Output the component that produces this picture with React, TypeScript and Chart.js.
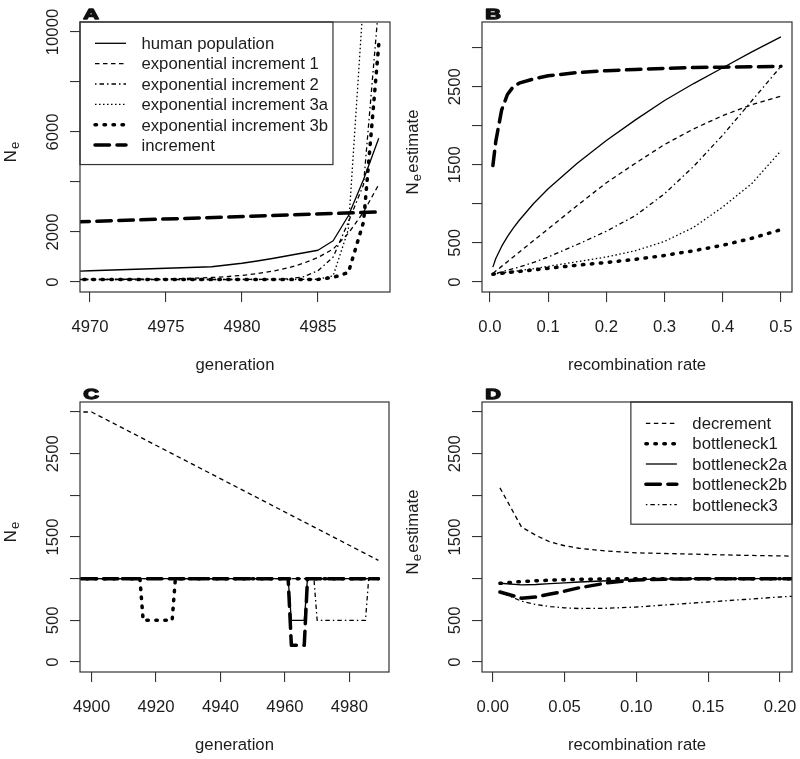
import React, { useEffect, useRef } from "react";
import { Chart, registerables } from "chart.js";

Chart.register(...registerables);

const FONT = "'Liberation Sans', Arial, Helvetica, sans-serif";
const FS = 16.7;
const INK = "#1c1c1c";
const AXIS = "#333333";
const LINE = "#000000";

// ---------- Panel A (generation vs Ne) ----------
const genA = [4969, 4970, 4971, 4972, 4973, 4974, 4975, 4976, 4977, 4978, 4979, 4980, 4981, 4982, 4983, 4984, 4985, 4986, 4987, 4988, 4989];
const humanA = [430, 450, 470, 490, 510, 530, 550, 570, 590, 610, 680, 750, 840, 940, 1050, 1160, 1270, 1650, 2650, 4100, 5750];
const exp1A = [100, 102, 105, 108, 112, 118, 126, 138, 155, 180, 215, 265, 335, 430, 560, 740, 980, 1320, 1950, 2800, 3900];
const exp2A = [100, 100, 100, 100, 100, 100, 100, 100, 100, 100, 100, 102, 105, 112, 125, 200, 450, 1000, 2400, 3900, 11100];
const exp3aA = [100, 100, 100, 100, 100, 100, 100, 100, 100, 100, 100, 100, 100, 100, 100, 102, 110, 250, 2100, 11400, 60000];
const exp3bA = [100, 100, 100, 100, 100, 100, 100, 100, 100, 100, 100, 100, 100, 100, 100, 100, 105, 180, 380, 2400, 9500];
const incGenA = [4969, 4979, 4989];
const incA = [2400, 2600, 2800];
const xTicksA = [4970, 4975, 4980, 4985];
const yTicksA = [0, 2000, 4000, 6000, 8000, 10000];
const yLabelsA = [0, 2000, 6000, 10000];
const legendA = ["human population", "exponential increment 1", "exponential increment 2", "exponential increment 3a", "exponential increment 3b", "increment"];

// ---------- Panel B (recombination rate vs Ne estimate) ----------
const rB = [0.005, 0.01, 0.02, 0.03, 0.04, 0.05, 0.075, 0.1, 0.15, 0.2, 0.25, 0.3, 0.35, 0.4, 0.45, 0.5];
const humanB = [190, 300, 455, 580, 690, 787, 1005, 1194, 1520, 1810, 2075, 2323, 2540, 2743, 2945, 3137];
const exp1B = [110, 140, 200, 260, 320, 380, 530, 680, 980, 1270, 1520, 1760, 1960, 2130, 2270, 2380];
const exp2B = [100, 110, 130, 150, 170, 190, 250, 320, 480, 650, 850, 1130, 1480, 1880, 2320, 2760];
const exp3aB = [100, 105, 115, 125, 135, 145, 170, 200, 260, 320, 400, 520, 700, 960, 1260, 1680];
const exp3bB = [100, 105, 112, 120, 128, 135, 155, 175, 215, 250, 290, 340, 400, 470, 560, 670];
const incB = [1490, 1800, 2200, 2400, 2500, 2545, 2600, 2640, 2680, 2705, 2720, 2735, 2745, 2750, 2755, 2760];
const xTicksB = [0, 0.1, 0.2, 0.3, 0.4, 0.5];
const yTicksB = [0, 500, 1000, 1500, 2000, 2500, 3000];
const yLabelsB = [0, 500, 1500, 2500];

// ---------- Panel C (generation vs Ne, decrement & bottlenecks) ----------
const decGenC = [4890, 4900, 4989];
const decC = [3000, 3000, 1220];
const b1GenC = [4890, 4915, 4916, 4925, 4926, 4989];
const b1C = [1000, 1000, 500, 500, 1000, 1000];
const b2GenC = [4890, 4961, 4962, 4966, 4967, 4989];
const b2aC = [1000, 1000, 500, 500, 1000, 1000];
const b2bC = [1000, 1000, 200, 200, 1000, 1000];
const b3GenC = [4890, 4969, 4970, 4985, 4986, 4989];
const b3C = [1000, 1000, 500, 500, 1000, 1000];
const xTicksC = [4900, 4920, 4940, 4960, 4980];
const yTicksC = [0, 500, 1000, 1500, 2000, 2500, 3000];
const yLabelsC = [0, 500, 1500, 2500];

// ---------- Panel D (recombination rate vs Ne estimate) ----------
const rD = [0.005, 0.02, 0.03, 0.04, 0.05, 0.06, 0.08, 0.1, 0.125, 0.15, 0.175, 0.2, 0.25];
const decD = [2090, 1620, 1520, 1440, 1395, 1365, 1330, 1310, 1300, 1290, 1280, 1273, 1262];
const b1D = [945, 965, 975, 982, 988, 992, 997, 1000, 1000, 1000, 1000, 1000, 1000];
const b2aD = [945, 925, 930, 940, 950, 960, 975, 990, 997, 1000, 1000, 1000, 1000];
const b2bD = [840, 765, 780, 815, 850, 890, 950, 985, 995, 1000, 1000, 1000, 1000];
const b3D = [840, 730, 690, 665, 650, 642, 645, 660, 690, 720, 750, 780, 830];
const xTicksD = [0, 0.05, 0.1, 0.15, 0.2];
const yTicksD = [0, 500, 1000, 1500, 2000, 2500, 3000];
const yLabelsD = [0, 500, 1500, 2500];
const legendD = ["decrement", "bottleneck1", "bottleneck2a", "bottleneck2b", "bottleneck3"];

type StyleKey = "solid" | "dashed" | "dotdash" | "dotted" | "thickDotted" | "longdash";
const STY: Record<StyleKey, { w: number; dash: number[]; cap: CanvasLineCap }> = {
  solid: { w: 1.3, dash: [], cap: "butt" },
  dashed: { w: 1.3, dash: [4.5, 3.5], cap: "butt" },
  dotdash: { w: 1.3, dash: [1.5, 3, 4.5, 3], cap: "butt" },
  dotted: { w: 1.3, dash: [1.5, 2.5], cap: "butt" },
  thickDotted: { w: 3.5, dash: [1.5, 7.5], cap: "round" },
  longdash: { w: 3.5, dash: [14.5, 7.5], cap: "round" },
};

type Series = { label: string; x: number[]; y: number[]; style: StyleKey };

type Spec = {
  letter: string;
  left: number;
  top: number;
  width: number;
  height: number;
  padR: number;
  yW: number;
  xMin: number;
  xMax: number;
  yMin: number;
  yMax: number;
  xTicks: number[];
  xDigits: number;
  yTicks: number[];
  yLabels: number[];
  xTitle: string;
  yRest: string;
  series: Series[];
  legend: null | { anchor: "left" | "right"; labels: string[] };
};

function makeDecor(spec: Spec) {
  return {
    id: "decor" + spec.letter,
    afterDatasetsDraw(chart: any) {
      const { ctx, chartArea: ca } = chart;
      if (!spec.legend) return;
      ctx.save();
      ctx.font = `${FS}px ${FONT}`;
      const labels = spec.legend.labels;
      let maxW = 0;
      labels.forEach((l) => (maxW = Math.max(maxW, ctx.measureText(l).width)));
      const w = 61.5 + maxW + 5;
      const h = 21.3 + (labels.length - 1) * 20.35 + 19.5;
      const lx = spec.legend.anchor === "left" ? ca.left : ca.right - w;
      const ly = ca.top;
      ctx.fillStyle = "#ffffff";
      ctx.fillRect(lx, ly, w, h);
      ctx.strokeStyle = AXIS;
      ctx.lineWidth = 1.2;
      ctx.setLineDash([]);
      ctx.strokeRect(lx, ly, w, h);
      labels.forEach((label, i) => {
        const ds = chart.data.datasets.find((d: any) => d.label === label);
        const ry = ly + 21.3 + i * 20.35;
        if (ds) {
          ctx.save();
          ctx.strokeStyle = LINE;
          ctx.lineWidth = ds.borderWidth;
          ctx.lineCap = ds.borderCapStyle;
          ctx.setLineDash(ds.borderDash);
          ctx.beginPath();
          ctx.moveTo(lx + 15, ry);
          ctx.lineTo(lx + 46, ry);
          ctx.stroke();
          ctx.restore();
        }
        ctx.fillStyle = INK;
        ctx.textAlign = "left";
        ctx.textBaseline = "alphabetic";
        ctx.fillText(label, lx + 61.5, ry + 5.8);
      });
      ctx.restore();
    },
    afterDraw(chart: any) {
      const { ctx, chartArea: ca } = chart;
      const xs = chart.scales.x;
      const ys = chart.scales.y;
      ctx.save();
      ctx.setLineDash([]);
      ctx.strokeStyle = AXIS;
      ctx.lineWidth = 1.2;
      ctx.strokeRect(ca.left, ca.top, ca.right - ca.left, ca.bottom - ca.top);

      ctx.fillStyle = INK;
      ctx.font = `${FS}px ${FONT}`;
      // x tick labels
      ctx.textAlign = "center";
      ctx.textBaseline = "alphabetic";
      spec.xTicks.forEach((v) => {
        ctx.fillText(v.toFixed(spec.xDigits), xs.getPixelForValue(v), ca.bottom + 39.5);
      });
      // x title
      ctx.fillText(spec.xTitle, (ca.left + ca.right) / 2, ca.bottom + 78);
      // y tick labels (rotated)
      spec.yLabels.forEach((v) => {
        ctx.save();
        ctx.translate(ca.left - 22, ys.getPixelForValue(v));
        ctx.rotate(-Math.PI / 2);
        ctx.textAlign = "center";
        ctx.fillText(String(v), 0, 0);
        ctx.restore();
      });
      // y title: N with subscript e, then rest
      const subFont = `13px ${FONT}`;
      const mainFont = `${FS}px ${FONT}`;
      ctx.font = mainFont;
      const wN = ctx.measureText("N").width;
      const wRest = spec.yRest ? ctx.measureText(spec.yRest).width : 0;
      ctx.font = subFont;
      const wE = ctx.measureText("e").width;
      const gap = spec.yRest ? 1.5 : 0;
      const total = wN + 1 + wE + gap + wRest;
      const yc = (ca.top + ca.bottom) / 2 - 5;
      ctx.save();
      ctx.translate(ca.left - 64, yc);
      ctx.rotate(-Math.PI / 2);
      ctx.textAlign = "left";
      let cx = -total / 2;
      ctx.font = mainFont;
      ctx.fillText("N", cx, 0);
      cx += wN + 1;
      ctx.font = subFont;
      ctx.fillText("e", cx, 3.2);
      cx += wE + gap;
      if (spec.yRest) {
        ctx.font = mainFont;
        ctx.fillText(spec.yRest, cx, 0);
      }
      ctx.restore();
      // panel letter
      ctx.save();
      ctx.translate(ca.left + 3.3, ca.top - 3.5);
      ctx.scale(1.45, 1);
      ctx.font = `bold 15px ${FONT}`;
      ctx.textAlign = "left";
      ctx.fillStyle = "#111";
      ctx.strokeStyle = "#111";
      ctx.lineWidth = 1.3;
      ctx.lineJoin = "round";
      ctx.fillText(spec.letter, 0, 0);
      ctx.strokeText(spec.letter, 0, 0);
      ctx.restore();
      ctx.restore();
    },
  };
}

function makeConfig(spec: Spec): any {
  const grid = {
    display: true,
    drawOnChartArea: false,
    drawTicks: true,
    tickLength: 10,
    color: AXIS,
    lineWidth: 1.1,
  };
  return {
    type: "line",
    data: {
      datasets: spec.series.map((s) => ({
        label: s.label,
        data: s.x.map((x, i) => ({ x, y: s.y[i] })),
        borderColor: LINE,
        backgroundColor: LINE,
        borderWidth: STY[s.style].w,
        borderDash: STY[s.style].dash,
        borderCapStyle: STY[s.style].cap,
        borderJoinStyle: "round",
        pointRadius: 0,
        pointHoverRadius: 0,
        tension: 0,
        fill: false,
        clip: 0,
      })),
    },
    options: {
      responsive: false,
      animation: false,
      devicePixelRatio: 1,
      events: [],
      layout: { padding: { left: 0, top: 22, right: spec.padR, bottom: 0 } },
      plugins: { legend: { display: false }, tooltip: { enabled: false }, title: { display: false } },
      scales: {
        x: {
          type: "linear",
          position: "bottom",
          min: spec.xMin,
          max: spec.xMax,
          afterBuildTicks: (sc: any) => {
            sc.ticks = spec.xTicks.map((v) => ({ value: v }));
          },
          afterFit: (sc: any) => {
            sc.height = spec.height - 292;
          },
          ticks: { display: false },
          grid,
          border: { display: false },
        },
        y: {
          type: "linear",
          position: "left",
          min: spec.yMin,
          max: spec.yMax,
          afterBuildTicks: (sc: any) => {
            sc.ticks = spec.yTicks.map((v) => ({ value: v }));
          },
          afterFit: (sc: any) => {
            sc.width = spec.yW;
          },
          ticks: { display: false },
          grid,
          border: { display: false },
        },
      },
    },
    plugins: [makeDecor(spec)],
  };
}

const specs: Spec[] = [
  {
    letter: "A", left: 0, top: 0, width: 400, height: 380, padR: 10, yW: 80,
    xMin: 4969.34, xMax: 4989.74, yMin: -400, yMax: 10400,
    xTicks: xTicksA, xDigits: 0, yTicks: yTicksA, yLabels: yLabelsA,
    xTitle: "generation", yRest: "",
    series: [
      { label: legendA[5], x: incGenA, y: incA, style: "longdash" },
      { label: legendA[0], x: genA, y: humanA, style: "solid" },
      { label: legendA[1], x: genA, y: exp1A, style: "dashed" },
      { label: legendA[2], x: genA, y: exp2A, style: "dotdash" },
      { label: legendA[3], x: genA, y: exp3aA, style: "dotted" },
      { label: legendA[4], x: genA, y: exp3bA, style: "thickDotted" },
    ],
    legend: { anchor: "left", labels: legendA },
  },
  {
    letter: "B", left: 400, top: 0, width: 400, height: 380, padR: 8, yW: 82,
    xMin: -0.0137, xMax: 0.519, yMin: -128, yMax: 3328,
    xTicks: xTicksB, xDigits: 1, yTicks: yTicksB, yLabels: yLabelsB,
    xTitle: "recombination rate", yRest: "estimate",
    series: [
      { label: legendA[0], x: rB, y: humanB, style: "solid" },
      { label: legendA[1], x: rB, y: exp1B, style: "dashed" },
      { label: legendA[2], x: rB, y: exp2B, style: "dotdash" },
      { label: legendA[3], x: rB, y: exp3aB, style: "dotted" },
      { label: legendA[4], x: rB, y: exp3bB, style: "thickDotted" },
      { label: legendA[5], x: rB, y: incB, style: "longdash" },
    ],
    legend: null,
  },
  {
    letter: "C", left: 0, top: 380, width: 400, height: 379, padR: 11, yW: 80,
    xMin: 4896.4, xMax: 4992.3, yMin: -120, yMax: 3120,
    xTicks: xTicksC, xDigits: 0, yTicks: yTicksC, yLabels: yLabelsC,
    xTitle: "generation", yRest: "",
    series: [
      { label: legendD[0], x: decGenC, y: decC, style: "dashed" },
      { label: legendD[4], x: b3GenC, y: b3C, style: "dotdash" },
      { label: legendD[2], x: b2GenC, y: b2aC, style: "solid" },
      { label: legendD[1], x: b1GenC, y: b1C, style: "thickDotted" },
      { label: legendD[3], x: b2GenC, y: b2bC, style: "longdash" },
    ],
    legend: null,
  },
  {
    letter: "D", left: 400, top: 380, width: 400, height: 379, padR: 8, yW: 82,
    xMin: -0.0075, xMax: 0.2084, yMin: -120, yMax: 3120,
    xTicks: xTicksD, xDigits: 2, yTicks: yTicksD, yLabels: yLabelsD,
    xTitle: "recombination rate", yRest: "estimate",
    series: [
      { label: legendD[0], x: rD, y: decD, style: "dashed" },
      { label: legendD[4], x: rD, y: b3D, style: "dotdash" },
      { label: legendD[2], x: rD, y: b2aD, style: "solid" },
      { label: legendD[1], x: rD, y: b1D, style: "thickDotted" },
      { label: legendD[3], x: rD, y: b2bD, style: "longdash" },
    ],
    legend: { anchor: "right", labels: legendD },
  },
];

function Panel({ spec }: { spec: Spec }) {
  const ref = useRef<HTMLCanvasElement>(null);
  useEffect(() => {
    if (!ref.current) return;
    const chart = new Chart(ref.current, makeConfig(spec));
    return () => chart.destroy();
  }, [spec]);
  return (
    <canvas
      ref={ref}
      width={spec.width}
      height={spec.height}
      style={{ position: "absolute", left: spec.left, top: spec.top, width: spec.width, height: spec.height }}
    />
  );
}

export default function App() {
  return (
    <div style={{ position: "absolute", left: 0, top: 0, width: 800, height: 759, background: "#ffffff", overflow: "hidden" }}>
      {specs.map((s) => (
        <Panel key={s.letter} spec={s} />
      ))}
    </div>
  );
}
